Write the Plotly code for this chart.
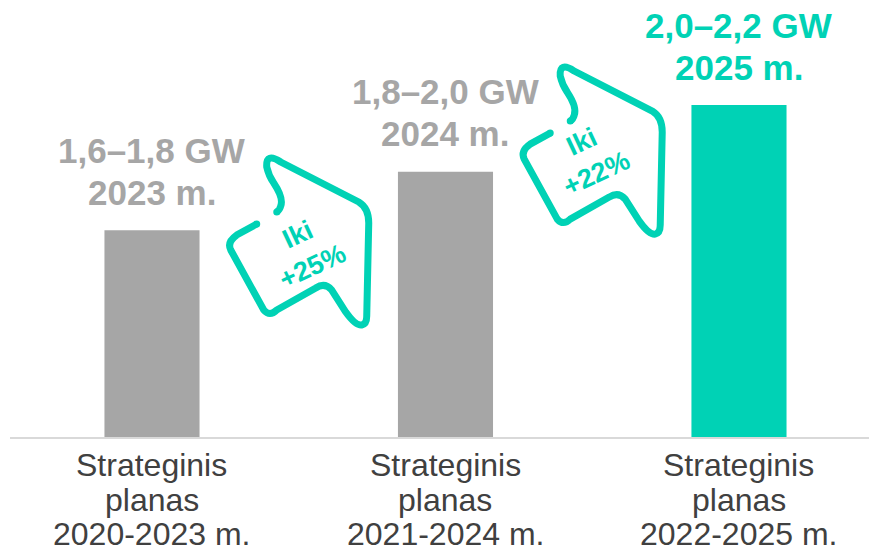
import plotly.graph_objects as go

# --- data -------------------------------------------------------------
plans = ["2020-2023", "2021-2024", "2022-2025"]
bar_heights = [62, 79.5, 99.5]          # relative bar heights
capacity = ["1,6–1,8 GW", "1,8–2,0 GW", "2,0–2,2 GW"]
target_year = ["2023 m.", "2024 m.", "2025 m."]
growth = ["+25%", "+22%"]

# --- style ------------------------------------------------------------
_GRAY = "#a6a6a6"
_TEAL = "#00d2b5"
_TEXT = "#404040"
_AXIS = "#d9d9d9"
_FONT = "Liberation Sans, Arial, sans-serif"

# arrow outline, pixel offsets from its centre (y pointing down)
_ARROW = [
    ("M", -42, -18), ("L", -62, -7), ("Q", -72, 0, -68, 8), ("L", -35, 68),
    ("Q", -29, 75, -22, 68), ("L", 17, 46), ("Q", 26, 40, 33, 48), ("L", 47, 70),
    ("Q", 57, 84, 63, 83), ("Q", 68, 82, 68, 74), ("L", 70, -19),
    ("Q", 70, -34, 60, -40), ("L", -18, -80), ("Q", -33, -90, -32, -75),
    ("Q", -30, -66, -25, -59), ("Q", -15, -44, -18, -36), ("Q", -19, -32, -22, -30),
]
_ENDS = [(-42, -18), (-22, -30)]


def arrow_path():
    parts = []
    for seg in _ARROW:
        cmd, nums = seg[0], seg[1:]
        pts = []
        for i in range(0, len(nums), 2):
            pts.append(f"{nums[i]},{-nums[i + 1]}")
        parts.append(cmd + " " + " ".join(pts))
    return " ".join(parts)


bar_colors = [_GRAY] * (len(plans) - 1) + [_TEAL]
label_colors = bar_colors

fig = go.Figure()
fig.add_trace(go.Bar(
    x=plans, y=bar_heights,
    marker=dict(color=bar_colors, line=dict(width=0)),
    width=0.324,
    hoverinfo="skip",
))

# value labels above the bars
for cat, h, cap, yr, col in zip(plans, bar_heights, capacity, target_year, label_colors):
    for txt, shift in [(cap, 80), (yr, 38)]:
        fig.add_annotation(
            x=cat, y=h, xref="x", yref="y", text=f"<b>{txt}</b>",
            showarrow=False, yanchor="middle", yshift=shift,
            font=dict(family=_FONT, size=35, color=col),
        )

# category labels under the axis (tighter line spacing than <br> gives)
for cat in plans:
    for txt, shift in [("Strateginis", -28), ("planas", -63), (f"{cat} m.", -97)]:
        fig.add_annotation(
            x=cat, y=0, xref="x", yref="paper", text=txt,
            showarrow=False, yanchor="middle", yshift=shift,
            font=dict(family=_FONT, size=32, color=_TEXT),
        )

# growth arrows between bars
arrow_pos = [(0.5, 58.45, 6, -8), (1.5, 85.7, -3, -6)]
path = arrow_path()
for (xa, ya, dx, dy), g in zip(arrow_pos, growth):
    fig.add_shape(
        type="path", path=path, xref="x", yref="y",
        xsizemode="pixel", ysizemode="pixel", xanchor=xa, yanchor=ya,
        line=dict(color=_TEAL, width=7), fillcolor="rgba(0,0,0,0)",
    )
    for ex, ey in _ENDS:
        fig.add_shape(
            type="circle", xref="x", yref="y",
            xsizemode="pixel", ysizemode="pixel", xanchor=xa, yanchor=ya,
            x0=ex - 3.5, x1=ex + 3.5, y0=-ey - 3.5, y1=-ey + 3.5,
            line=dict(width=0), fillcolor=_TEAL,
        )
    fig.add_annotation(
        x=xa, y=ya, xref="x", yref="y", text=f"<b>Iki<br>{g}</b>",
        showarrow=False, textangle=-25, xshift=dx, yshift=dy,
        font=dict(family=_FONT, size=27, color=_TEAL),
    )

fig.update_layout(
    width=869, height=554,
    margin=dict(l=10, r=0, t=20, b=117),
    plot_bgcolor="white", paper_bgcolor="white",
    showlegend=False,
    font=dict(family=_FONT, size=28, color=_TEXT),
    xaxis=dict(
        type="category", range=[-0.4838, 2.443],
        showline=True, linecolor=_AXIS, linewidth=2,
        showgrid=False, zeroline=False, ticks="", showticklabels=False,
    ),
    yaxis=dict(range=[0, 125], visible=False),
)

fig.write_html(
    "out.html",
    config={"displayModeBar": False},
    post_script="document.body.style.margin='0';",
)
